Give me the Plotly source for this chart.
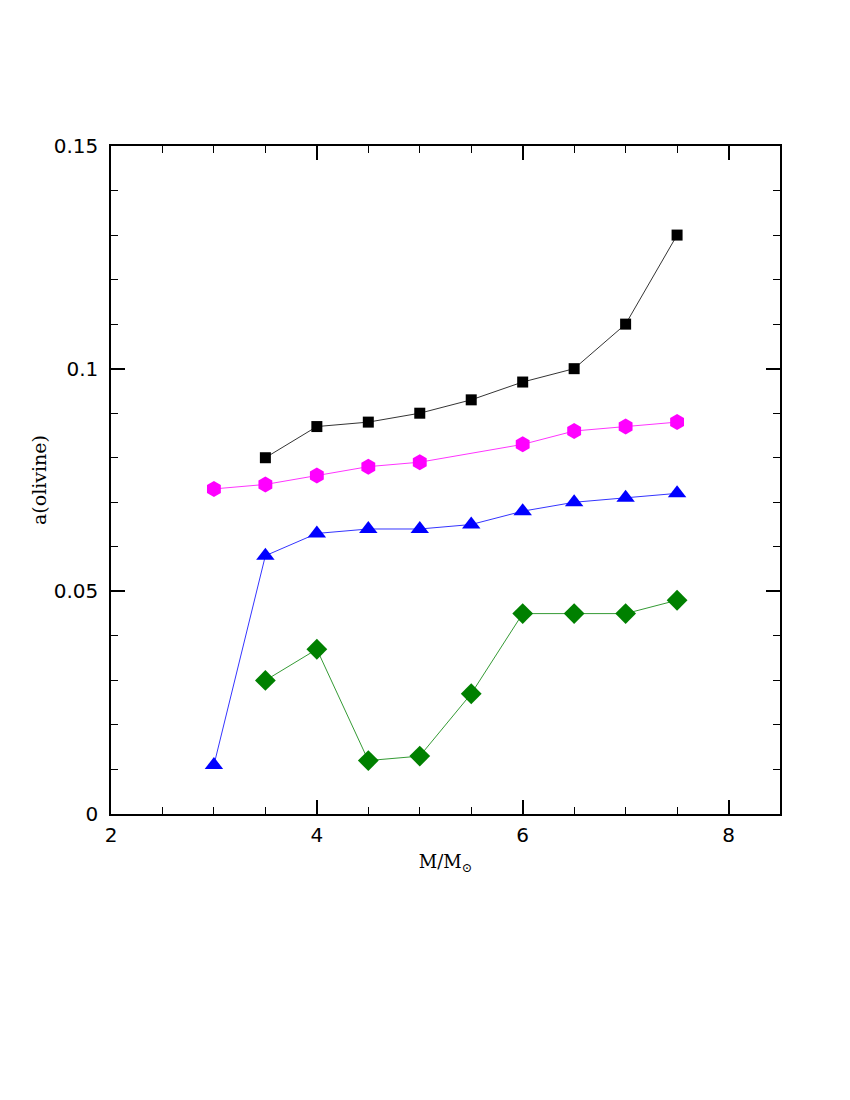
import plotly.graph_objects as go

x_black = [3.5, 4, 4.5, 5, 5.5, 6, 6.5, 7, 7.5]
y_black = [0.080, 0.087, 0.088, 0.090, 0.093, 0.097, 0.100, 0.110, 0.130]

x_magenta = [3, 3.5, 4, 4.5, 5, 6, 6.5, 7, 7.5]
y_magenta = [0.073, 0.074, 0.076, 0.078, 0.079, 0.083, 0.086, 0.087, 0.088]

x_blue = [3, 3.5, 4, 4.5, 5, 5.5, 6, 6.5, 7, 7.5]
y_blue = [0.011, 0.058, 0.063, 0.064, 0.064, 0.065, 0.068, 0.070, 0.071, 0.072]

x_green = [3.5, 4, 4.5, 5, 5.5, 6, 6.5, 7, 7.5]
y_green = [0.030, 0.037, 0.012, 0.013, 0.027, 0.045, 0.045, 0.045, 0.048]

x_ticks = [2, 4, 6, 8]
y_ticks = [0, 0.05, 0.1, 0.15]
y_ticklabels = ["0", "0.05", "0.1", "0.15"]

fig = go.Figure()
series = [
    (x_black, y_black, "black", "square", 11),
    (x_magenta, y_magenta, "magenta", "hexagon", 16),
    (x_blue, y_blue, "blue", "triangle-up", 16),
    (x_green, y_green, "green", "diamond", 16),
]
for xs, ys, c, sym, sz in series:
    fig.add_trace(go.Scatter(x=xs, y=ys, mode="lines+markers",
                             line=dict(color=c, width=0.8),
                             marker=dict(symbol=sym, size=sz, color=c, line=dict(width=0)),
                             showlegend=False))

tickfont = dict(family="DejaVu Sans, sans-serif", size=20, color="black")
fig.update_layout(
    width=850, height=1100,
    margin=dict(l=103, r=78, t=138, b=294),
    paper_bgcolor="white", plot_bgcolor="white",
)
fig.update_xaxes(range=[2, 8.5], tickvals=x_ticks, ticktext=[str(v) for v in x_ticks],
                 ticks="inside", ticklen=14, tickwidth=1.5, tickcolor="black",
                 showline=True, linecolor="black", linewidth=1.5, mirror="allticks",
                 showgrid=False, zeroline=False, tickfont=tickfont, ticklabelstandoff=2,
                 minor=dict(dtick=0.5, tick0=2, ticks="inside", ticklen=7, tickwidth=1.2, tickcolor="black"),
                 title=dict(text="M/M<sub>⊙</sub>", font=dict(family="DejaVu Serif, serif", size=18, color="black"), standoff=10))
fig.update_yaxes(range=[0, 0.15], tickvals=y_ticks, ticktext=y_ticklabels,
                 ticks="inside", ticklen=14, tickwidth=1.5, tickcolor="black",
                 showline=True, linecolor="black", linewidth=1.5, mirror="allticks",
                 showgrid=False, zeroline=False, tickfont=tickfont, ticklabelstandoff=7,
                 minor=dict(dtick=0.01, tick0=0, ticks="inside", ticklen=7, tickwidth=1.2, tickcolor="black"),
                 title=dict(text="a(olivine)", font=dict(family="DejaVu Serif, serif", size=19, color="black"), standoff=2))

fig.write_html("out.html")
